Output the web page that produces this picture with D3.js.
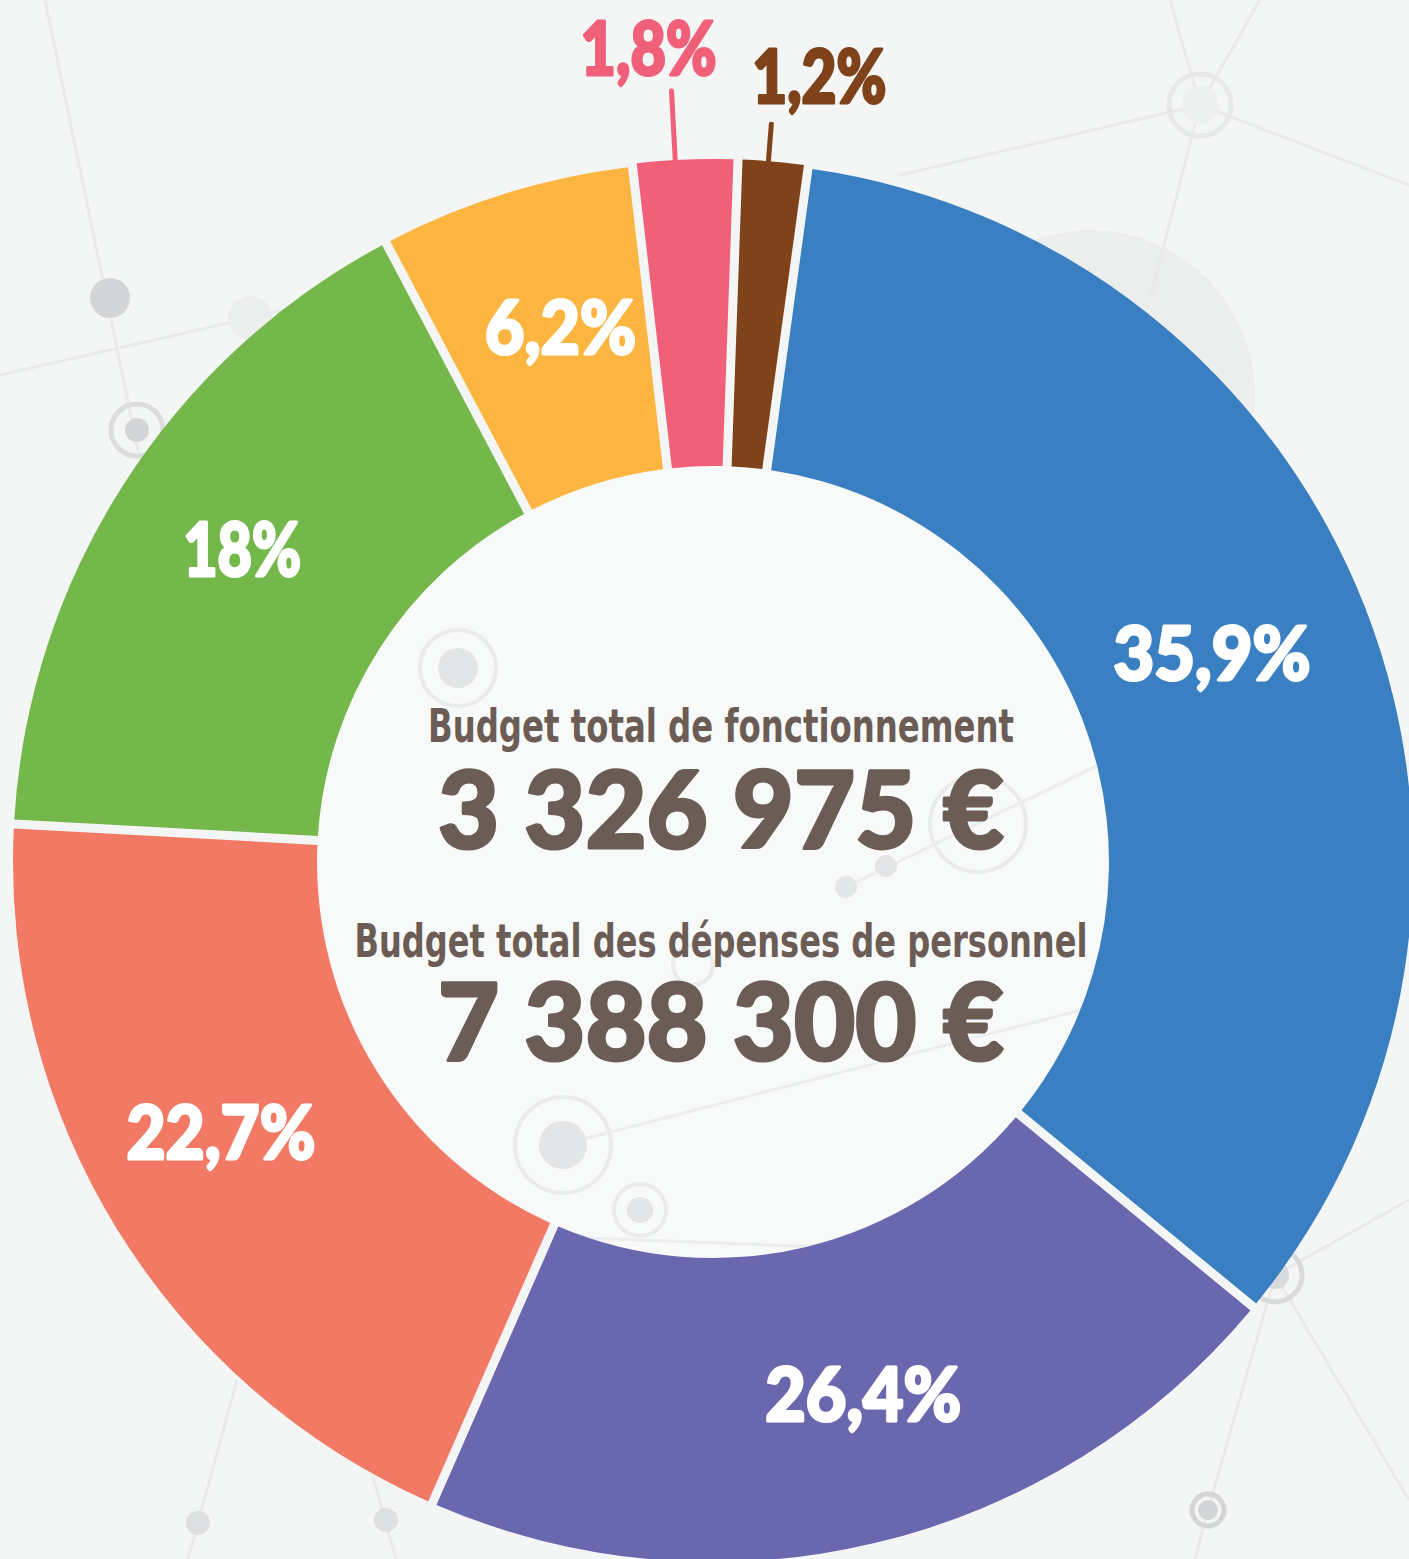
<!DOCTYPE html>
<html>
<head>
<meta charset="utf-8">
<script src="https://cdn.jsdelivr.net/npm/d3@7"></script>
<style>
  html, body { margin: 0; padding: 0; background: #f4f5f5; }
  svg { display: block; }
</style>
</head>
<body>
<div id="chart"></div>
<script>
// slices, clockwise from the brown / blue boundary
const categories = ['bleu', 'violet', 'saumon', 'vert', 'orange', 'rose', 'marron'];
// arc shares as drawn in the picture
const arcShares = [33.8, 20.6, 19.3, 16.4, 5.9, 2.4, 1.6];
// printed labels
const labels = ['35,9%', '26,4%', '22,7%', '18%', '6,2%', '1,8%', '1,2%'];
const colors = ['#3a7fc1', '#6967ae', '#f27a64', '#74b74a', '#fcb540', '#f06079', '#7f421b'];

const centerTitles = ['Budget total de fonctionnement', 'Budget total des dépenses de personnel'];
const centerAmounts = ['3 326 975\u202F€', '7 388 300\u202F€'];

const width = 1409, height = 1559;
const cx = 713, cy = 862;
const outerR = 700, innerR = 396;
const bg = '#f4f5f5';
const textColor = '#6b5d55';

const svg = d3.select('#chart').append('svg')
    .attr('width', width)
    .attr('height', height);

svg.append('rect').attr('width', width).attr('height', height).attr('fill', bg);

// faint network pattern in the background
const deco = svg.append('g');
deco.append('circle').attr('cx', 1090).attr('cy', 395).attr('r', 165).attr('fill', '#eceded');
const lines = [[45, 0, 140, 460], [0, 375, 330, 300], [1170, 0, 1200, 105], [1260, 0, 1200, 105],
               [900, 175, 1200, 105], [1200, 105, 1409, 185], [1200, 105, 1150, 300],
               [1275, 1275, 1409, 1200], [1275, 1275, 1208, 1510], [1208, 1510, 1195, 1559],
               [1275, 1275, 1409, 1500], [237, 1380, 188, 1559], [373, 1477, 396, 1559]];
deco.selectAll('line').data(lines).enter().append('line')
    .attr('x1', d => d[0]).attr('y1', d => d[1]).attr('x2', d => d[2]).attr('y2', d => d[3])
    .attr('stroke', '#e9eaeb').attr('stroke-width', 3);
const dots = [[110, 298, 20, '#d4d5d7'], [250, 318, 22, '#eceded'], [137, 430, 12, '#d4d5d7'],
              [1200, 105, 19, '#eeefef'], [198, 1523, 12, '#dedfe0'], [386, 1520, 12, '#dedfe0'],
              [1208, 1510, 10, '#d4d5d7'], [1275, 1275, 14, '#d9dadb']];
deco.selectAll('circle.dot').data(dots).enter().append('circle')
    .attr('class', 'dot')
    .attr('cx', d => d[0]).attr('cy', d => d[1]).attr('r', d => d[2]).attr('fill', d => d[3]);
const rings = [[137, 430, 26, '#dcdddf'], [1200, 105, 31, '#e8e9ea'], [1208, 1510, 16, '#d4d5d7'],
               [1275, 1275, 27, '#d9dadb']];
deco.selectAll('circle.ring').data(rings).enter().append('circle')
    .attr('class', 'ring')
    .attr('cx', d => d[0]).attr('cy', d => d[1]).attr('r', d => d[2])
    .attr('fill', 'none').attr('stroke', d => d[3]).attr('stroke-width', 5);

// inner disc with its own faint pattern, clipped to the hole
svg.append('clipPath').attr('id', 'hole')
    .append('circle').attr('cx', cx).attr('cy', cy).attr('r', innerR);
const inner = svg.append('g').attr('clip-path', 'url(#hole)');
inner.append('circle').attr('cx', cx).attr('cy', cy).attr('r', innerR).attr('fill', '#f8f9f9');
inner.selectAll('line').data([[846, 887, 1130, 750], [560, 1145, 1120, 1000], [380, 1230, 900, 1250]])
    .enter().append('line')
    .attr('x1', d => d[0]).attr('y1', d => d[1]).attr('x2', d => d[2]).attr('y2', d => d[3])
    .attr('stroke', '#ecedee').attr('stroke-width', 3);
inner.selectAll('circle.idot').data([[846, 887, 11], [886, 866, 11], [458, 668, 20], [640, 1210, 13], [563, 1145, 24]])
    .enter().append('circle').attr('class', 'idot')
    .attr('cx', d => d[0]).attr('cy', d => d[1]).attr('r', d => d[2]).attr('fill', '#e4e5e6');
inner.selectAll('circle.iring').data([[458, 668, 38], [640, 1210, 26], [563, 1145, 48], [978, 824, 48], [693, 965, 20]])
    .enter().append('circle').attr('class', 'iring')
    .attr('cx', d => d[0]).attr('cy', d => d[1]).attr('r', d => d[2])
    .attr('fill', 'none').attr('stroke', '#eaebec').attr('stroke-width', 4);

const plot = svg.append('g').attr('transform', `translate(${cx},${cy})`);

const startAngle = 7.8 * Math.PI / 180;
const pie = d3.pie()
    .value(d => d.value)
    .sort(null)
    .startAngle(startAngle)
    .endAngle(startAngle + 2 * Math.PI);

const data = categories.map((c, i) => ({ name: c, value: arcShares[i], label: labels[i], color: colors[i] }));
const arcs = pie(data);

// constant-width gaps centred on each boundary
const arc = d3.arc()
    .innerRadius(innerR)
    .outerRadius(d => d.index >= 5 ? outerR + 3 : outerR)
    .padAngle(9 / outerR)
    .padRadius(outerR);

plot.selectAll('path.slice')
    .data(arcs)
    .enter()
    .append('path')
    .attr('class', 'slice')
    .attr('d', arc)
    .attr('fill', d => d.data.color);

// labels inside the ring
const labelArc = d3.arc().innerRadius(552).outerRadius(552);
const labelFont = 'Lato, "Open Sans", sans-serif';
const labelWidth = [197, 196, 189, 118, 151, 136, 134];
const nudge = [[-15, -8], [22, -5], [-22, -19], [-6, -15], [11, -7]];

plot.selectAll('text.inside')
    .data(arcs.filter(d => d.index < 5))
    .enter()
    .append('text')
    .attr('class', 'inside')
    .attr('transform', d => {
        const c = labelArc.centroid(d);
        return `translate(${c[0] + nudge[d.index][0]},${c[1] + nudge[d.index][1]})`;
    })
    .attr('text-anchor', 'middle')
    .attr('dy', '0.36em')
    .attr('font-family', labelFont)
    .attr('font-weight', 900)
    .attr('font-size', 74)
    .attr('fill', '#ffffff')
    .attr('stroke', '#ffffff')
    .attr('stroke-width', 3)
    .attr('stroke-linejoin', 'round')
    .attr('textLength', d => labelWidth[d.index])
    .attr('lengthAdjust', 'spacingAndGlyphs')
    .text(d => d.data.label);

// small slices: leader line + label above
const small = arcs.filter(d => d.index >= 5);
const leaderEnd = { 5: 772, 6: 740 };
const leaderTurn = { 5: -0.8, 6: -0.4 };
const labelOffset = { 5: [-23, -43], 6: [48, -48] };
const polar = (a, r) => [Math.sin(a) * r, -Math.cos(a) * r];

small.forEach(d => {
    const mid = (d.startAngle + d.endAngle) / 2 + leaderTurn[d.index] * Math.PI / 180;
    const p0 = polar(mid, outerR - 2);
    const p1 = polar(mid, leaderEnd[d.index]);
    plot.append('line')
        .attr('x1', p0[0]).attr('y1', p0[1])
        .attr('x2', p1[0]).attr('y2', p1[1])
        .attr('stroke', d.data.color)
        .attr('stroke-width', 5)
        .attr('stroke-linecap', 'round');
    plot.append('text')
        .attr('x', p1[0] + labelOffset[d.index][0])
        .attr('y', p1[1] + labelOffset[d.index][1])
        .attr('text-anchor', 'middle')
        .attr('dy', '0.36em')
        .attr('font-family', labelFont)
        .attr('font-weight', 900)
        .attr('font-size', 74)
        .attr('fill', d.data.color)
        .attr('stroke', d.data.color)
        .attr('stroke-width', 3)
        .attr('stroke-linejoin', 'round')
        .attr('textLength', labelWidth[d.index])
        .attr('lengthAdjust', 'spacingAndGlyphs')
        .text(d.data.label);
});

// centre texts
const titleY = [-120, 95];
const titleW = [586, 733];
const amountY = [-14, 198];
centerTitles.forEach((t, i) => {
    plot.append('text')
        .attr('x', 8)
        .attr('y', titleY[i])
        .attr('text-anchor', 'middle')
        .attr('font-family', '"Liberation Sans Narrow", "DejaVu Sans Condensed", sans-serif')
        .attr('font-weight', 700)
        .attr('font-size', 46)
        .attr('fill', textColor)
        .attr('textLength', titleW[i])
        .attr('lengthAdjust', 'spacingAndGlyphs')
        .text(t);
    plot.append('text')
        .attr('x', 8)
        .attr('y', amountY[i])
        .attr('text-anchor', 'middle')
        .attr('font-family', labelFont)
        .attr('font-weight', 900)
        .attr('font-size', 106)
        .attr('fill', textColor)
        .attr('stroke', textColor)
        .attr('stroke-width', 3)
        .attr('stroke-linejoin', 'round')
        .attr('textLength', 566)
        .attr('lengthAdjust', 'spacingAndGlyphs')
        .text(centerAmounts[i]);
});
</script>
</body>
</html>
